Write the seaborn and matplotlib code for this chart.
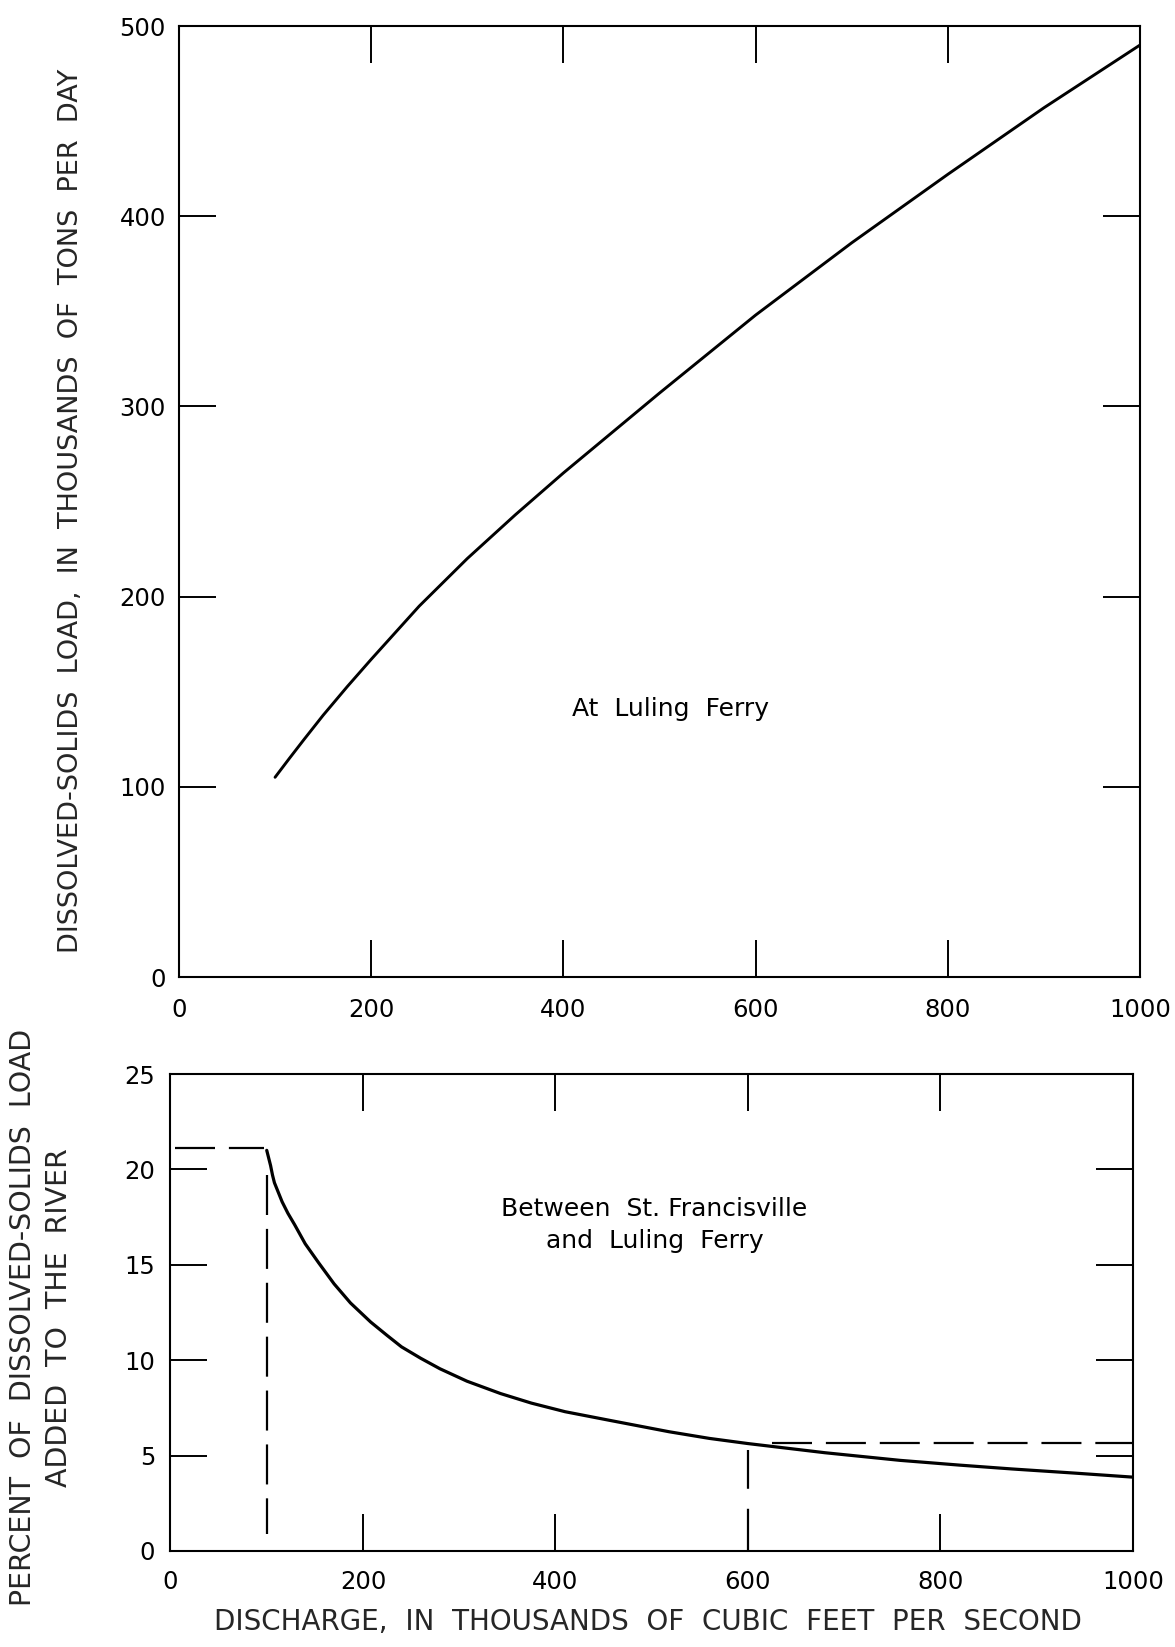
import matplotlib
matplotlib.use("Agg")
import matplotlib.pyplot as plt
import pandas as pd
import seaborn as sns

# Dissolved-solids load at Luling Ferry, thousands of tons per day
discharge_luling = [100, 115, 130, 150, 175, 200, 225, 250, 300, 350, 400, 450,
                    500, 600, 700, 800, 900, 1000]
load_luling = [105, 115, 124.8, 137.6, 152.6, 167, 181, 195, 220, 243, 265, 286,
               307, 348, 386, 422, 457, 490]

# Percent of the load added between St. Francisville and Luling Ferry
discharge_added = [100, 102, 104, 106, 108, 112, 116, 122, 129, 140, 154, 170,
                   187, 208, 225, 240, 260, 280, 308, 343, 375, 410, 456, 518,
                   560, 600, 680, 758, 820, 874, 940, 1000]
percent_added = [21.0, 20.6, 20.2, 19.7, 19.3, 18.8, 18.3, 17.7, 17.1, 16.1, 15.1, 14.0,
                 13.0, 12.0, 11.3, 10.7, 10.1, 9.55, 8.9, 8.25, 7.75, 7.3, 6.85, 6.25,
                 5.9, 5.63, 5.15, 4.75, 4.5, 4.3, 4.08, 3.87]

# Dashed construction lines on the lower graph
low_discharge = 100
low_percent = 21.1
high_discharge = 600
high_percent = 5.65

xticks = [0, 200, 400, 600, 800, 1000]
load_ticks = [0, 100, 200, 300, 400, 500]
percent_ticks = [0, 5, 10, 15, 20, 25]

sns.set_theme(style="ticks")
plt.rcParams["font.family"] = ["DejaVu Sans"]
plt.rcParams["axes.linewidth"] = 1.5
plt.rcParams["axes.edgecolor"] = "black"
plt.rcParams["text.color"] = "black"
plt.rcParams["xtick.color"] = "black"
plt.rcParams["ytick.color"] = "black"

INK = "black"
TICK_FS = 17.5

fig = plt.figure(figsize=(11.75, 16.47), dpi=100)
fig.patch.set_facecolor("white")

ax_top = fig.add_axes([0.1523, 0.4068, 0.8179, 0.5774])
ax_bot = fig.add_axes([0.1451, 0.0583, 0.8191, 0.2896])

top_df = pd.DataFrame({"discharge": discharge_luling, "load": load_luling})
bot_df = pd.DataFrame({"discharge": discharge_added, "percent": percent_added})

sns.lineplot(data=top_df, x="discharge", y="load", ax=ax_top,
             color=INK, linewidth=2.1, estimator=None, sort=False)
sns.lineplot(data=bot_df, x="discharge", y="percent", ax=ax_bot,
             color=INK, linewidth=2.3, estimator=None, sort=False)

dash = (0, (18, 6.25))
ax_bot.plot([5, low_discharge - 3], [low_percent, low_percent],
            color=INK, linewidth=1.6, linestyle=dash)
ax_bot.plot([low_discharge, low_discharge], [19.7, 0.9],
            color=INK, linewidth=1.6, linestyle=dash)
ax_bot.plot([high_discharge, high_discharge], [0, 5.3],
            color=INK, linewidth=1.6, linestyle=(0, (19, 9)))
ax_bot.plot([625, 1000], [high_percent, high_percent],
            color=INK, linewidth=1.6, linestyle=dash)

for ax, yt, ymax in ((ax_top, load_ticks, 500), (ax_bot, percent_ticks, 25)):
    ax.set_xlim(0, 1000)
    ax.set_ylim(0, ymax)
    ax.set_xticks(xticks)
    ax.set_yticks(yt)
    ax.set_xticklabels([str(v) for v in xticks])
    ax.set_yticklabels([str(v) for v in yt])
    ax.tick_params(which="both", direction="in", length=26.5, width=1.4,
                   top=True, right=True, labeltop=False, labelright=False,
                   labelsize=TICK_FS, colors=INK)
    for s in ax.spines.values():
        s.set_visible(True)
        s.set_color(INK)
        s.set_linewidth(1.5)
    ax.set_facecolor("white")
    ax.grid(False)

ax_top.tick_params(axis="x", pad=15)
ax_top.tick_params(axis="y", pad=9.5)
ax_bot.tick_params(axis="x", pad=13.5)
ax_bot.tick_params(axis="y", pad=11)

ax_top.set_xlabel("")
ax_top.set_ylabel("DISSOLVED-SOLIDS  LOAD,  IN  THOUSANDS  OF  TONS  PER  DAY",
                  fontsize=19.5, rotation=90, va="center", ha="center",
                  rotation_mode="anchor")
ax_top.yaxis.set_label_coords(-0.1124, 0.49)

ax_bot.set_ylabel("PERCENT  OF  DISSOLVED-SOLIDS  LOAD\nADDED  TO  THE  RIVER",
                  fontsize=20.5, rotation=90, va="center", ha="center",
                  rotation_mode="anchor", linespacing=1.4)
ax_bot.yaxis.set_label_coords(-0.1345, 0.49)

ax_bot.set_xlabel("DISCHARGE,  IN  THOUSANDS  OF  CUBIC  FEET  PER  SECOND",
                  fontsize=20, va="center", ha="center")
ax_bot.xaxis.set_label_coords(0.496, -0.149)

ax_top.text(511, 141, "At  Luling  Ferry", fontsize=18, ha="center", va="center",
            color=INK)
ax_bot.text(503, 17.1, "Between  St. Francisville\nand  Luling  Ferry", fontsize=18,
            ha="center", va="center", color=INK, linespacing=1.4)

fig.savefig("out.png", dpi=100, facecolor="white")
